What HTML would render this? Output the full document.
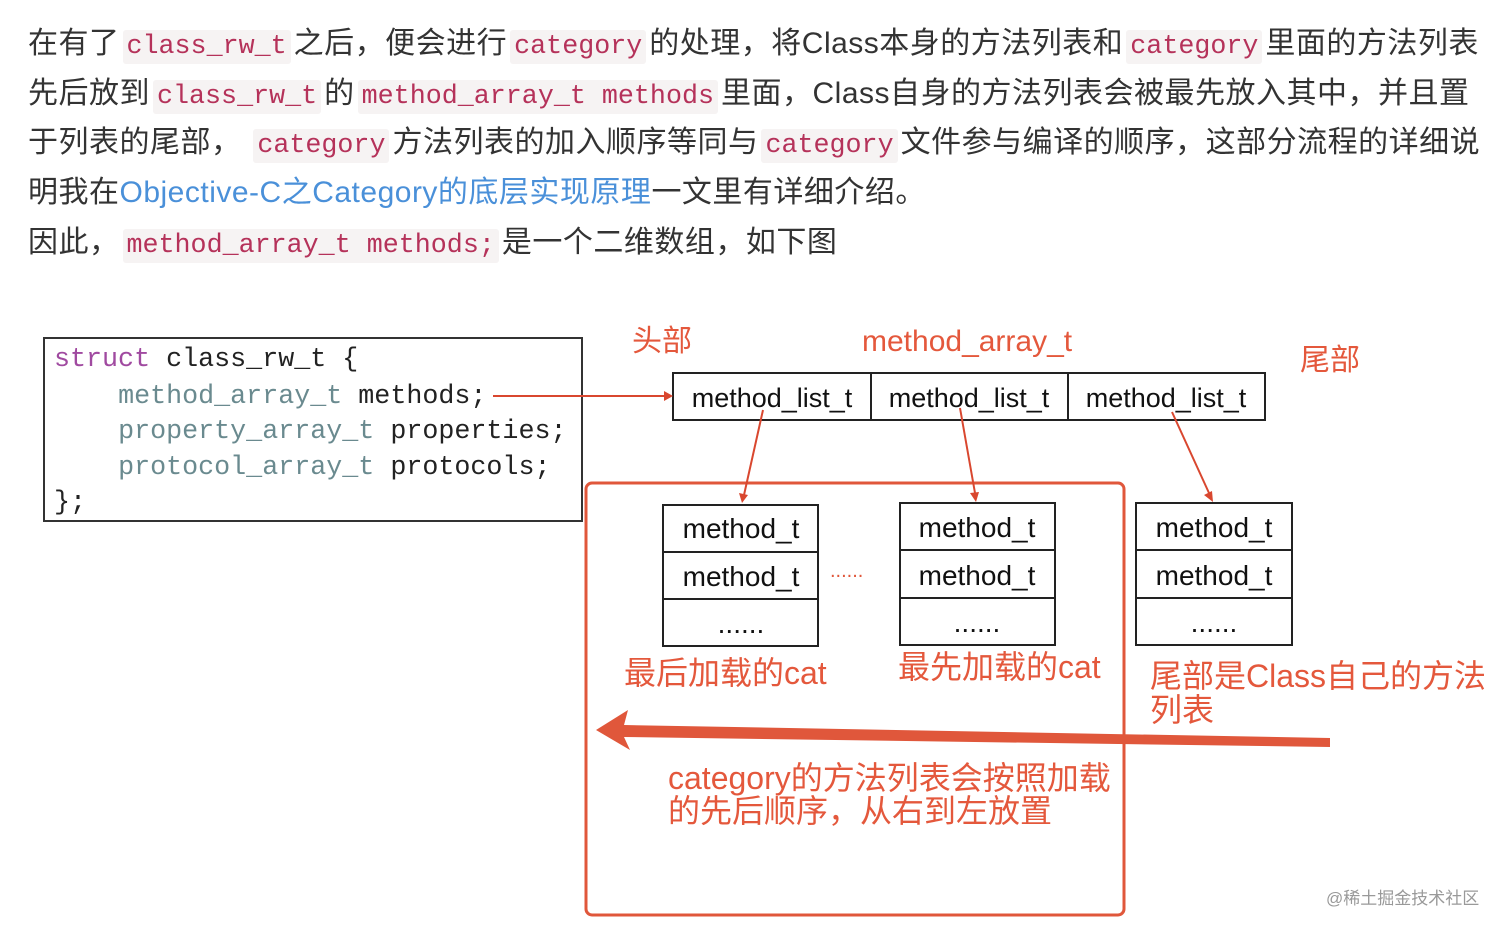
<!DOCTYPE html>
<html><head><meta charset="utf-8"><style>
body{margin:0;width:1512px;height:933px;background:#fff;position:relative;overflow:hidden;font-family:"Liberation Sans","Noto Sans CJK SC",sans-serif}
.l{position:absolute;left:28px;font-size:30px;color:#333;white-space:nowrap;line-height:40px;letter-spacing:0.5px}
code{font-family:"Liberation Mono","Noto Sans CJK SC",monospace;font-size:26.7px;letter-spacing:0;color:#b5325a;background:#f6f3f3;padding:2px 4px;border-radius:3px;margin:0 3px}
a{color:#4a90d9;text-decoration:none}
.t{position:absolute;white-space:nowrap;color:#e4583c;font-size:32px;line-height:34px}
.m{font-family:"Liberation Mono",monospace;font-size:26.7px;position:absolute;left:54px;white-space:pre;color:#222;line-height:36px}
.g{color:#6a8a8f}.k{color:#a04aa0}
</style></head><body>
<div class="l" style="top:24px">在有了<code>class_rw_t</code>之后，便会进行<code>category</code>的处理，将Class本身的方法列表和<code>category</code>里面的方法列表</div>
<div class="l" style="top:74px">先后放到<code>class_rw_t</code>的<code>method_array_t methods</code>里面，Class自身的方法列表会被最先放入其中，并且置</div>
<div class="l" style="top:123px">于列表的尾部， <code>category</code>方法列表的加入顺序等同与<code>category</code>文件参与编译的顺序，这部分流程的详细说</div>
<div class="l" style="top:173px">明我在<a>Objective-C之Category的底层实现原理</a>一文里有详细介绍。</div>
<div class="l" style="top:223px">因此，<code>method_array_t methods;</code>是一个二维数组，如下图</div>

<svg width="1512" height="933" style="position:absolute;left:0;top:0" xmlns="http://www.w3.org/2000/svg">
<rect x="44" y="338" width="538" height="183" fill="none" stroke="#333" stroke-width="2"/>
<rect x="586" y="483" width="538" height="432" rx="6" fill="none" stroke="#e0573b" stroke-width="3"/>
<g fill="none" stroke="#222" stroke-width="2">
<rect x="673" y="373" width="592" height="47"/><line x1="871" y1="373" x2="871" y2="420"/><line x1="1068" y1="373" x2="1068" y2="420"/>
<rect x="663" y="505" width="155" height="141"/><line x1="663" y1="552" x2="818" y2="552"/><line x1="663" y1="599" x2="818" y2="599"/>
<rect x="900" y="503" width="155" height="142"/><line x1="900" y1="550" x2="1055" y2="550"/><line x1="900" y1="598" x2="1055" y2="598"/>
<rect x="1136" y="503" width="156" height="142"/><line x1="1136" y1="550" x2="1292" y2="550"/><line x1="1136" y1="598" x2="1292" y2="598"/>
</g>
<g stroke="#d9472f" stroke-width="2" fill="#d9472f">
<line x1="493" y1="396" x2="666" y2="396"/><polygon points="673,396 664,391 664,401" stroke="none"/>
<line x1="763" y1="410" x2="744" y2="495"/><polygon points="742,503 739,493 748,495" stroke="none"/>
<line x1="960" y1="408" x2="975" y2="493"/><polygon points="976,502 970,493 979,492" stroke="none"/>
<line x1="1172" y1="412" x2="1209" y2="493"/><polygon points="1213,502 1204,495 1212,491" stroke="none"/>
</g>
<polygon points="596,730 628,710 624,725 1330,738 1330,747 624,737 630,750" fill="#e0573b"/>
<g font-family="Liberation Sans,sans-serif" font-size="27" fill="#111" text-anchor="middle">
<text x="772" y="407">method_list_t</text><text x="969" y="407">method_list_t</text><text x="1166" y="407">method_list_t</text>
</g>
<g font-family="Liberation Sans,sans-serif" font-size="28" fill="#111" text-anchor="middle">
<text x="741" y="538">method_t</text><text x="741" y="586">method_t</text><text x="741" y="633">......</text>
<text x="977" y="537">method_t</text><text x="977" y="585">method_t</text><text x="977" y="632">......</text>
<text x="1214" y="537">method_t</text><text x="1214" y="585">method_t</text><text x="1214" y="632">......</text>
</g>
<text x="830" y="577" font-family="Liberation Sans,sans-serif" font-size="20" fill="#e0573b">......</text>
<text x="1326" y="904" font-family="Liberation Sans,Noto Sans CJK SC,sans-serif" font-size="17" fill="#999">@稀土掘金技术社区</text>
</svg>

<div class="m" style="top:342px"><span class="k">struct</span> class_rw_t {</div>
<div class="m" style="top:379px">    <span class="g">method_array_t</span> methods;</div>
<div class="m" style="top:414px">    <span class="g">property_array_t</span> properties;</div>
<div class="m" style="top:450px">    <span class="g">protocol_array_t</span> protocols;</div>
<div class="m" style="top:485px">};</div>

<div class="t" style="left:632px;top:325px;font-size:30px">头部</div>
<div class="t" style="left:862px;top:325px;font-size:30px">method_array_t</div>
<div class="t" style="left:1300px;top:344px;font-size:30px">尾部</div>
<div class="t" style="left:624px;top:656px">最后加载的cat</div>
<div class="t" style="left:898px;top:650px">最先加载的cat</div>
<div class="t" style="left:1150px;top:659px">尾部是Class自己的方法<br>列表</div>
<div class="t" style="left:668px;top:762px;line-height:33px">category的方法列表会按照加载<br>的先后顺序，从右到左放置</div>
</body></html>
